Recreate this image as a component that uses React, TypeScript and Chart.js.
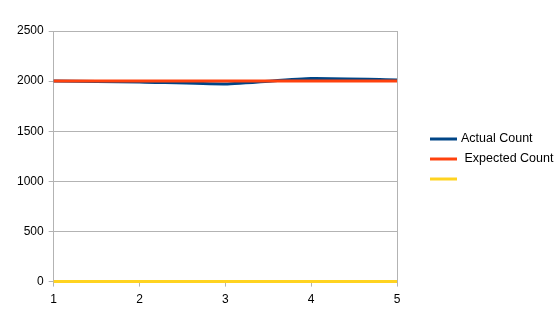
import React, { useEffect, useRef } from "react";
import { Chart, registerables } from "chart.js";

Chart.register(...registerables);

const categories = ["1", "2", "3", "4", "5"];
const actualCount = [2000, 1992, 1972, 2025, 2012];
const expectedCount = [2000, 2000, 2000, 2000, 2000];
const thirdSeries = [0, 0, 0, 0, 0];
const seriesLabels = ["Actual Count", " Expected Count", ""];
const seriesColors = ["#004586", "#ff420e", "#ffd320"];
const yTicks = [0, 500, 1000, 1500, 2000, 2500];

const FONT = "'Liberation Sans', Arial, sans-serif";

const legendPlugin = {
  id: "customLegend",
  afterDraw(chart: any) {
    const ctx = chart.ctx;
    const ds = chart.data.datasets;
    const x0 = 430;
    const boxW = 27;
    const startY = 139;
    const step = 20;
    ctx.save();
    ctx.font = "12.5px " + FONT;
    ctx.textBaseline = "middle";
    ctx.textAlign = "left";
    ds.forEach((d: any, i: number) => {
      const y = startY + i * step;
      ctx.strokeStyle = d.borderColor;
      ctx.lineWidth = 3;
      ctx.beginPath();
      ctx.moveTo(x0, y);
      ctx.lineTo(x0 + boxW, y);
      ctx.stroke();
      ctx.fillStyle = "#000";
      ctx.fillText(d.label, x0 + boxW + 4, y);
    });
    ctx.restore();
  },
};

export default function App() {
  const ref = useRef<HTMLCanvasElement>(null);
  useEffect(() => {
    document.body.style.margin = "0";
    const chart = new Chart(ref.current!, {
      type: "line",
      data: {
        labels: categories,
        datasets: [
          { label: seriesLabels[0], data: actualCount, borderColor: seriesColors[0], borderWidth: 3, pointRadius: 0, order: 1, tension: 0.15, clip: false },
          { label: seriesLabels[1], data: expectedCount, borderColor: seriesColors[1], borderWidth: 3, pointRadius: 0, order: 0, clip: false },
          { label: seriesLabels[2], data: thirdSeries, borderColor: seriesColors[2], borderWidth: 3, pointRadius: 0, order: 2, clip: false },
        ],
      },
      options: {
        animation: false,
        responsive: false,
        maintainAspectRatio: false,
        layout: { padding: { left: 12, right: 161, top: 31, bottom: 5 } },
        plugins: { legend: { display: false }, tooltip: { enabled: false } },
        scales: {
          x: {
            offset: false,
            grid: {
              drawOnChartArea: true,
              color: (c: any) => (c.index === categories.length - 1 ? "#b3b3b3" : "rgba(0,0,0,0)"),
              tickColor: "#b3b3b3",
              tickLength: 5,
            },
            border: { color: "#b3b3b3" },
            ticks: { color: "#000", font: { family: FONT, size: 12 }, padding: 6, maxRotation: 0 },
          },
          y: {
            min: 0,
            max: 2500,
            afterBuildTicks: (axis: any) => {
              axis.ticks = yTicks.map((v) => ({ value: v }));
            },
            grid: { color: "#b3b3b3", tickColor: "#b3b3b3", tickLength: 5 },
            border: { color: "#b3b3b3" },
            ticks: { color: "#000", font: { family: FONT, size: 12 }, padding: 5, callback: (v: any) => String(v) },
          },
        },
      },
      plugins: [legendPlugin],
    });
    return () => chart.destroy();
  }, []);
  return (
    <div style={{ width: 558, height: 318 }}>
      <canvas ref={ref} width={558} height={318} style={{ display: "block" }} />
    </div>
  );
}
